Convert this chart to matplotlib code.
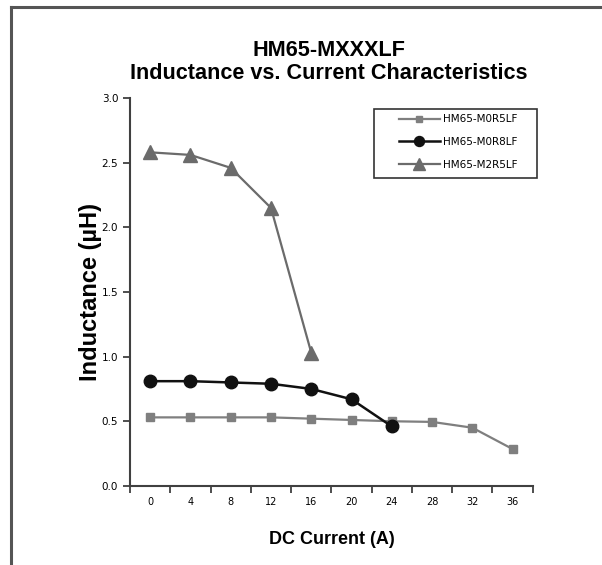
import numpy as np
import matplotlib.pyplot as plt
from matplotlib.lines import Line2D
from matplotlib.patches import Rectangle

# Data
current = [0, 4, 8, 12, 16, 20, 24, 28, 32, 36]
m0r5 = [0.53, 0.53, 0.53, 0.53, 0.52, 0.51, 0.50, 0.495, 0.45, 0.285]
m0r8 = [0.81, 0.81, 0.80, 0.79, 0.75, 0.67, 0.46]
m2r5 = [2.58, 2.56, 2.46, 2.15, 1.03]
names = ['HM65-M0R5LF', 'HM65-M0R8LF', 'HM65-M2R5LF']

W, H = 602, 565
fig = plt.figure(figsize=(W / 100, H / 100), dpi=100)
ax = fig.add_axes([0.216, 0.140, 0.669, 0.6865])

idx = np.arange(len(current))
ax.plot(idx[:len(m0r5)], m0r5, color='#7f7f7f', lw=1.6, marker='s', ms=6,
        mec='#7f7f7f', mfc='#7f7f7f', label=names[0])
ax.plot(idx[:len(m0r8)], m0r8, color='#111111', lw=1.8, marker='o', ms=9,
        mec='#111111', mfc='#111111', label=names[1])
ax.plot(idx[:len(m2r5)], m2r5, color='#6b6b6b', lw=1.6, marker='^', ms=10,
        mec='#6b6b6b', mfc='#6b6b6b', label=names[2])

ax.set_xlim(-0.5, len(current) - 0.5)
ax.set_ylim(0, 3.0)
ax.set_yticks(np.arange(0, 3.01, 0.5))
ax.set_yticklabels([f'{v:.1f}' for v in np.arange(0, 3.01, 0.5)])
# category axis: labels at centers, tick marks between categories
ax.set_xticks(idx)
ax.set_xticklabels([str(c) for c in current])
ax.set_xticks(np.arange(-0.5, len(current)), minor=True)
ax.tick_params(axis='x', which='major', length=0, pad=8, labelsize=7)
ax.tick_params(axis='x', which='minor', length=5, width=1.3, color='#404040', direction='out')
ax.tick_params(axis='y', length=5, width=1.3, color='#404040', labelsize=7.5)

for s in ['top', 'right']:
    ax.spines[s].set_visible(False)
for s in ['left', 'bottom']:
    ax.spines[s].set_color('#404040')
    ax.spines[s].set_linewidth(1.5)

bold = dict(family=['Liberation Sans', 'DejaVu Sans'], weight='bold')
ax.set_ylabel('Inductance (\u00b5H)', fontsize=17, labelpad=0, **bold)
ax.set_xlabel('DC Current (A)', fontsize=13, labelpad=17, **bold)
fig.text(329 / W, 1 - 62 / H, 'HM65-MXXXLF\nInductance vs. Current Characteristics',
         ha='center', va='center', fontsize=15.6, linespacing=1.1, **bold)

# legend entries without frame, box drawn separately
leg = ax.legend(loc='upper left', bbox_to_anchor=(399 / W, 1 - 114.5 / H),
                bbox_transform=fig.transFigure, frameon=False,
                fontsize=7.5, handlelength=3.9, borderpad=0, borderaxespad=0,
                labelspacing=1.2, handletextpad=0.3, markerscale=0.8)
fig.add_artist(Rectangle((374 / W, 1 - 178 / H), 163 / W, 69 / H, fill=False,
                         edgecolor='#333333', lw=1.2, transform=fig.transFigure))

# page border (top and left)
fig.add_artist(Line2D([11 / W, 11 / W], [0, 1 - 7 / H], color='#555555', lw=2.2))
fig.add_artist(Line2D([11 / W, 1], [1 - 7 / H, 1 - 7 / H], color='#555555', lw=2.2))

fig.savefig('out.png', dpi=100)
